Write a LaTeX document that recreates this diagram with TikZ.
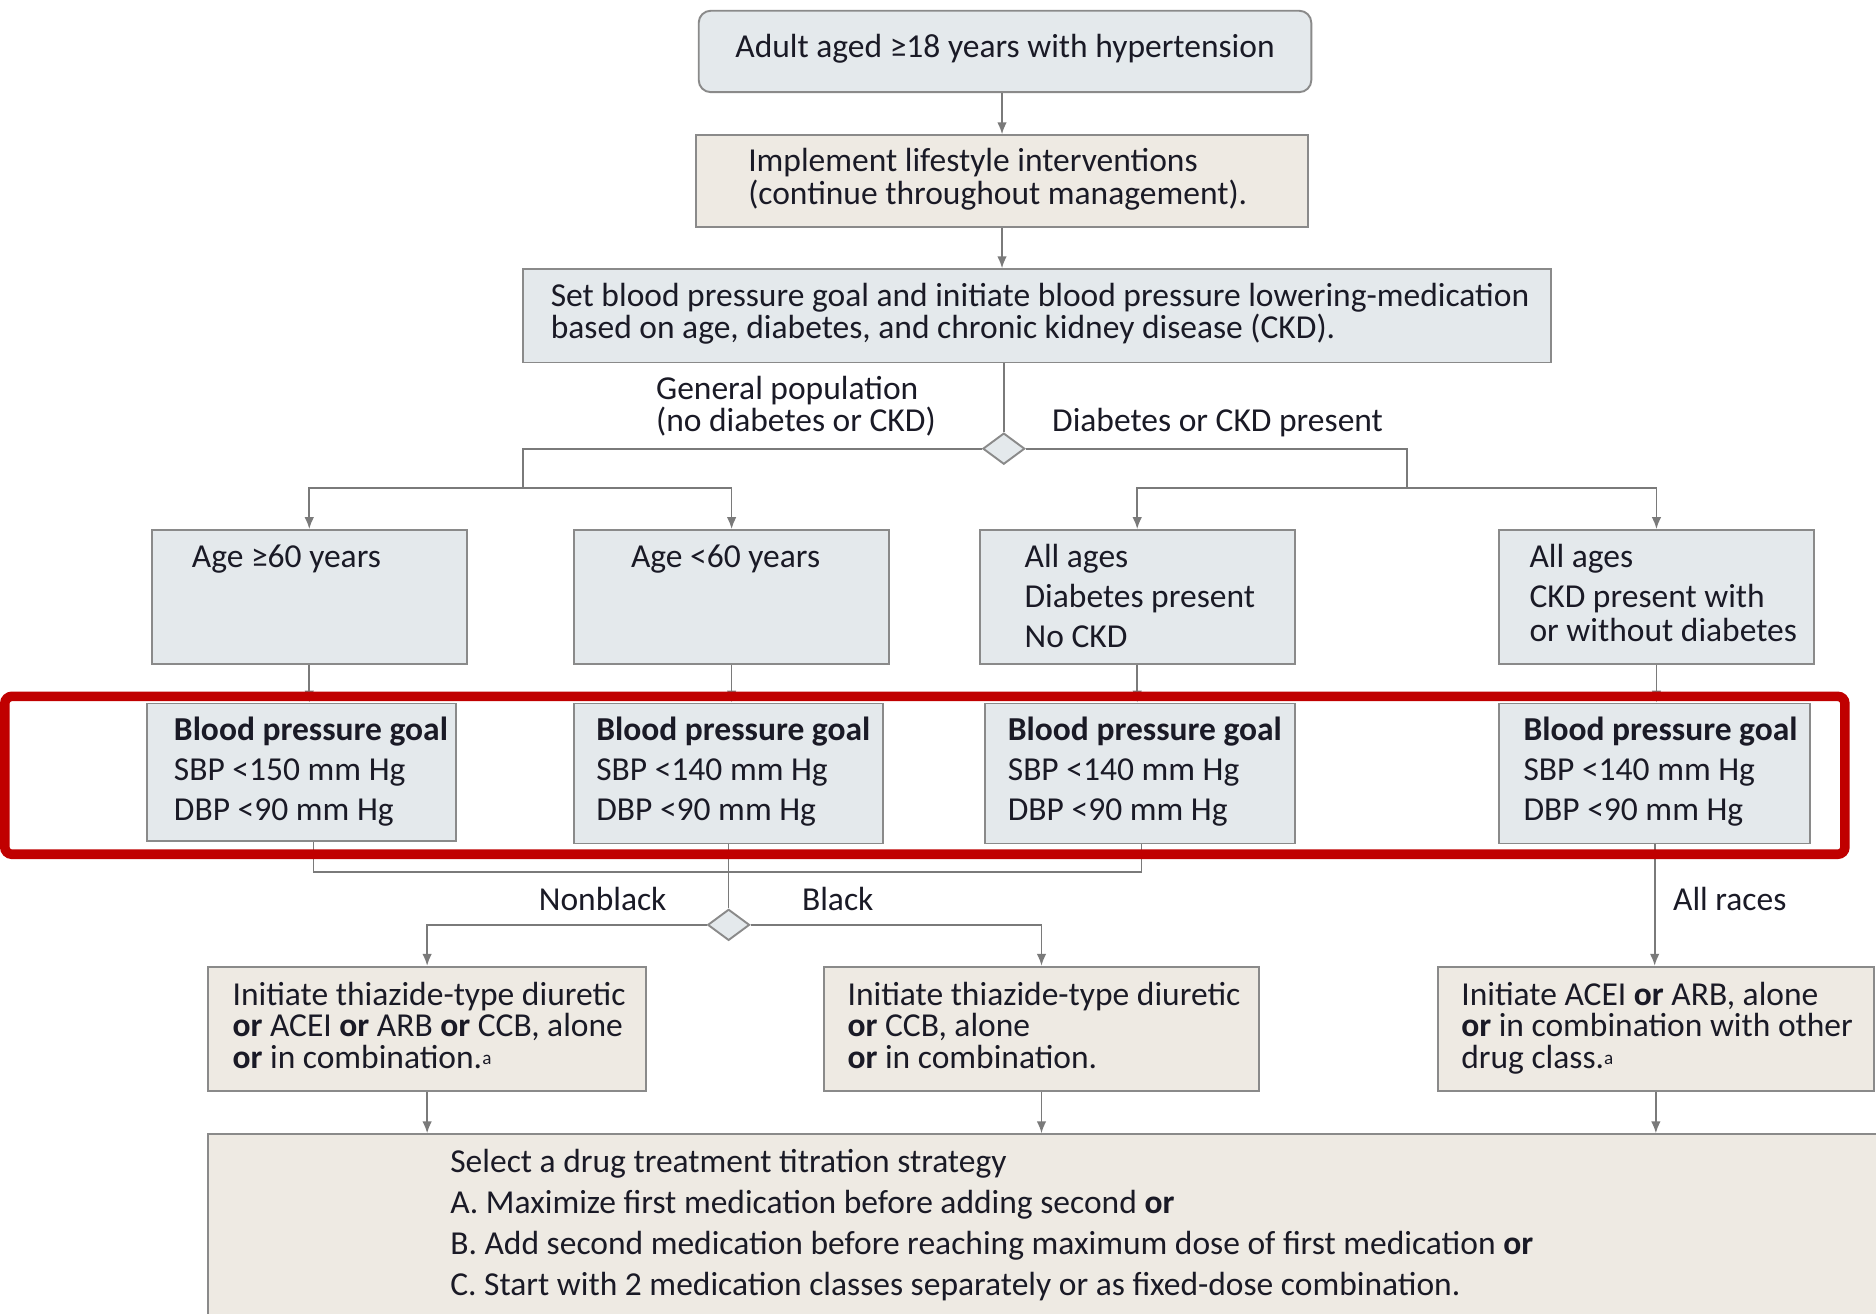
\documentclass[tikz,border=0pt]{standalone}
\usepackage{fontspec}
\setmainfont{Carlito}
\usetikzlibrary{arrows.meta,shapes.geometric}
\definecolor{boxblue}{HTML}{E4E9EC}
\definecolor{boxbeige}{HTML}{EEEAE3}
\definecolor{edgegray}{HTML}{8A8A8A}
\definecolor{linegray}{HTML}{7A7A7A}
\definecolor{txtcol}{HTML}{1A1A26}
\definecolor{redframe}{HTML}{C00000}
\newcommand\txtl[2]{\vtop{\baselineskip=#1\lineskiplimit=-30pt\lineskip=0pt\halign{##\hfil\cr#2\crcr}}}
\newcommand\fnmark{\raisebox{1.5pt}{\fontsize{8}{8}\selectfont a}}
\begin{document}
\begin{tikzpicture}[x=0.5pt,y=-0.5pt,
  bluebox/.style={draw=edgegray, fill=boxblue, line width=0.8pt, inner sep=0pt},
  beigebox/.style={draw=edgegray, fill=boxbeige, line width=0.8pt, inner sep=0pt},
  conn/.style={draw=linegray, line width=0.7pt},
  arr/.style={conn, -{Latex[length=5pt,width=4pt]}},
  lbl/.style={text=txtcol, font=\fontsize{14}{16}\selectfont, inner sep=0pt},
  dia/.style={diamond, draw=edgegray, fill=boxblue, line width=0.8pt, minimum width=17.5pt, minimum height=13pt, inner sep=0pt},
]
\clip (0,0) rectangle (1568,1098);
\fill[white] (0,0) rectangle (1568,1098);

% boxes
\node[bluebox, rounded corners=5pt, minimum width=256pt, minimum height=34pt] (start) at (840,43) {};
\node[beigebox, minimum width=255.5pt, minimum height=38.5pt] (life) at (837.5,151.5) {};
\node[bluebox, minimum width=429.5pt, minimum height=39pt] (setbp) at (866.5,264) {};
\node[dia] (d1) at (839,375) {};
\node[bluebox, minimum width=131.5pt, minimum height=56pt] (ageA) at (258.5,499) {};
\node[bluebox, minimum width=131.5pt, minimum height=56pt] (ageB) at (611.5,499) {};
\node[bluebox, minimum width=131.5pt, minimum height=56pt] (allC) at (950.5,499) {};
\node[bluebox, minimum width=131.5pt, minimum height=56pt] (allD) at (1384.5,499) {};
\node[bluebox, minimum width=129pt, minimum height=57.5pt] (g1) at (252,645.5) {};
\node[bluebox, minimum width=129pt, minimum height=58.5pt] (g2) at (609,646.5) {};
\node[bluebox, minimum width=129.5pt, minimum height=58.5pt] (g3) at (952.5,646.5) {};
\node[bluebox, minimum width=130pt, minimum height=58.5pt] (g4) at (1383,646.5) {};
\node[dia] (d2) at (609,773) {};
\node[beigebox, minimum width=183pt, minimum height=52pt] (t1) at (357,860) {};
\node[beigebox, minimum width=181.5pt, minimum height=52pt] (t2) at (870.5,860) {};
\node[beigebox, minimum width=182pt, minimum height=52pt] (t3) at (1384,860) {};
\node[beigebox, minimum width=713pt, minimum height=86pt] (fin) at (887,1034) {};

% junction coordinates
\coordinate (j1) at (437,408);
\coordinate (j2) at (1176,408);
\coordinate (m1) at (262,729);
\coordinate (m3) at (954,729);

% connectors
\draw[arr] (start.south -| life.north) -- (life.north);
\draw[arr] (life.south) -- (life.south |- setbp.north);
\draw[conn] (d1.north |- setbp.south) -- (d1.north);
\draw[conn] (d1.west) -| (j1);
\draw[conn] (d1.east) -| (j2);
\draw[arr] (j1) -| (ageA.north);
\draw[arr] (j1) -| (ageB.north);
\draw[arr] (j2) -| (allC.north);
\draw[arr] (j2) -| (allD.north);
\draw[arr] (ageA.south) -- (ageA.south |- g1.north);
\draw[arr] (ageB.south) -- (ageB.south |- g2.north);
\draw[arr] (allC.south) -- (allC.south |- g3.north);
\draw[arr] (allD.south) -- (allD.south |- g4.north);
\draw[conn] (g1.south -| m1) -- (m1) -- (m3) -- (g3.south -| m3);
\draw[conn] (g2.south) -- (d2.north);
\draw[arr] (d2.west) -| (t1.north);
\draw[arr] (d2.east) -| (t2.north);
\draw[arr] (g4.south) -- (g4.south |- t3.north);
\draw[arr] (t1.south) -- (t1.south |- fin.north);
\draw[arr] (t2.south) -- (t2.south |- fin.north);
\draw[arr] (t3.south) -- (t3.south |- fin.north);

% texts
\node[lbl, anchor=base] (tstart) at (840,48) {Adult aged ≥18 years with hypertension};
\node[lbl, anchor=base west] (tlife) at (625,143) {\txtl{14pt}{Implement lifestyle interventions\cr(continue throughout management).}};
\node[lbl, anchor=base west] (tset) at (460,256) {\txtl{13.5pt}{Set blood pressure goal and initiate blood pressure lowering-medication\cr based on age, diabetes, and chronic kidney disease (CKD).}};
\node[lbl, anchor=base west] (lgen) at (548,334) {\txtl{13.5pt}{General population\cr(no diabetes or CKD)}};
\node[lbl, anchor=base west] (ldia) at (879,361) {Diabetes or CKD present};
\node[lbl, anchor=base west] (tA) at (160,474) {Age ≥60 years};
\node[lbl, anchor=base west] (tB) at (527,474) {Age <60 years};
\node[lbl, anchor=base west] (tC) at (856,474) {\txtl{16.75pt}{All ages\cr Diabetes present\cr No CKD}};
\node[lbl, anchor=base west] (tD) at (1278,474) {\txtl{14pt}{All ages\cr\noalign{\vskip3pt}CKD present with\cr or without diabetes}};
\node[lbl, anchor=base west] (tg1) at (145,619) {\txtl{16.75pt}{\textbf{Blood pressure goal}\cr SBP <150 mm Hg\cr DBP <90 mm Hg}};
\node[lbl, anchor=base west] (tg2) at (498,619) {\txtl{16.75pt}{\textbf{Blood pressure goal}\cr SBP <140 mm Hg\cr DBP <90 mm Hg}};
\node[lbl, anchor=base west] (tg3) at (842,619) {\txtl{16.75pt}{\textbf{Blood pressure goal}\cr SBP <140 mm Hg\cr DBP <90 mm Hg}};
\node[lbl, anchor=base west] (tg4) at (1273,619) {\txtl{16.75pt}{\textbf{Blood pressure goal}\cr SBP <140 mm Hg\cr DBP <90 mm Hg}};
\node[lbl, anchor=base west] (lnb) at (450,761) {Nonblack};
\node[lbl, anchor=base west] (lbk) at (670,761) {Black};
\node[lbl, anchor=base west] (lar) at (1398,761) {All races};
\node[lbl, anchor=base west] (tt1) at (194,840) {\txtl{13.25pt}{Initiate thiazide-type diuretic\cr \textbf{or} ACEI \textbf{or} ARB \textbf{or} CCB, alone\cr \textbf{or} in combination.\fnmark}};
\node[lbl, anchor=base west] (tt2) at (708,840) {\txtl{13.25pt}{Initiate thiazide-type diuretic\cr \textbf{or} CCB, alone\cr \textbf{or} in combination.}};
\node[lbl, anchor=base west] (tt3) at (1221,840) {\txtl{13.25pt}{Initiate ACEI \textbf{or} ARB, alone\cr \textbf{or} in combination with other\cr drug class.\fnmark}};
\node[lbl, anchor=base west] (tfin) at (376,980) {\txtl{17.2pt}{Select a drug treatment titration strategy\cr A. Maximize first medication before adding second \textbf{or}\cr B. Add second medication before reaching maximum dose of first medication \textbf{or}\cr C. Start with 2 medication classes separately or as fixed-dose combination.}};

% red highlight frame
\draw[redframe, line width=4pt, rounded corners=3pt] (4,582) rectangle (1542,714);
\end{tikzpicture}
\end{document}
